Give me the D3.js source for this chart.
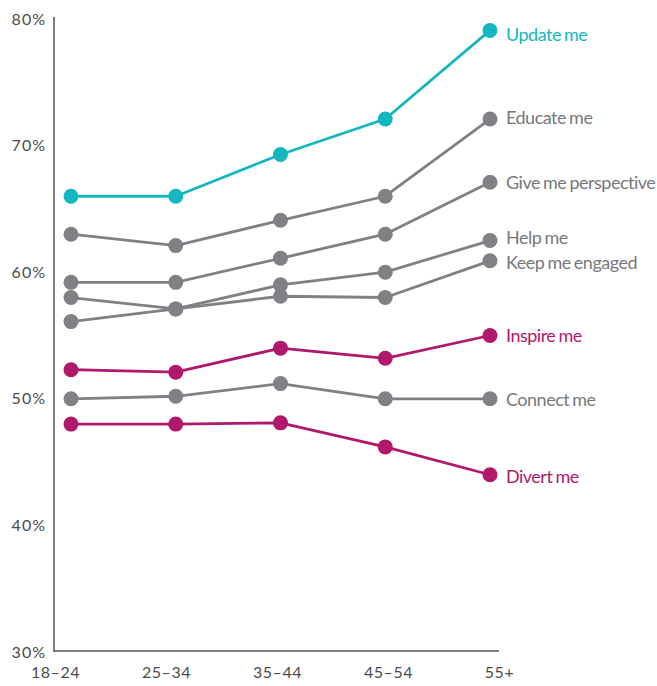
<!DOCTYPE html>
<html>
<head>
<meta charset="utf-8">
<script src="https://cdn.jsdelivr.net/npm/d3@7"></script>
<style>
  html, body { margin: 0; padding: 0; background: #ffffff; }
  svg { display: block; }
</style>
</head>
<body>
<svg id="chart" width="657" height="686"></svg>
<script>
// ---- Data ----
const categories = ["18–24", "25–34", "35–44", "45–54", "55+"];
const yTicks = [30, 40, 50, 60, 70, 80];

const seriesNames = [
  "Update me", "Educate me", "Give me perspective", "Help me",
  "Keep me engaged", "Inspire me", "Connect me", "Divert me"
];
const updateMe          = [66.0, 66.0, 69.3, 72.1, 79.1];
const educateMe         = [63.0, 62.1, 64.1, 66.0, 72.1];
const giveMePerspective = [59.2, 59.2, 61.1, 63.0, 67.1];
const helpMe            = [56.1, 57.1, 59.0, 60.0, 62.5];
const keepMeEngaged     = [58.0, 57.1, 58.1, 58.0, 60.9];
const inspireMe         = [52.3, 52.1, 54.0, 53.2, 55.0];
const connectMe         = [50.0, 50.2, 51.2, 50.0, 50.0];
const divertMe          = [48.0, 48.0, 48.1, 46.2, 44.0];

const seriesValues = [updateMe, educateMe, giveMePerspective, helpMe,
                      keepMeEngaged, inspireMe, connectMe, divertMe];

// ---- Styling / layout (kept out of data) ----
const colorOf = {
  "Update me": "#14b6c0",
  "Inspire me": "#b0186b",
  "Divert me": "#b0186b"
};
const grey = "#808185";
const labelNudge = {
  "Update me": 4, "Educate me": -1, "Give me perspective": 0, "Help me": -3,
  "Keep me engaged": 2, "Inspire me": 0, "Connect me": 1, "Divert me": 2
};

const svg = d3.select("#chart");

const x = d3.scalePoint().domain(categories).range([71, 490]);
const xLab = d3.scalePoint().domain(categories).range([55, 499]);
const y = d3.scaleLinear().domain([30, 80]).range([652, 19]);

// axes lines
svg.append("line")
  .attr("x1", 54).attr("x2", 54).attr("y1", 17).attr("y2", 651.5)
  .attr("stroke", "#555658").attr("stroke-width", 1.5);
svg.append("line")
  .attr("x1", 53.25).attr("x2", 499).attr("y1", 651).attr("y2", 651)
  .attr("stroke", "#555658").attr("stroke-width", 1.5);

// y tick labels
const yAxis = svg.append("g")
  .attr("transform", "translate(46,0)")
  .call(d3.axisLeft(y).tickValues(yTicks).tickSize(0).tickPadding(0)
        .tickFormat(d => d + "%"));
yAxis.select(".domain").remove();
yAxis.selectAll("text")
  .attr("font-family", "Lato, 'Open Sans', sans-serif")
  .attr("font-size", 16)
  .attr("letter-spacing", "1px")
  .attr("fill", "#4b4b4d");

// x tick labels
const xAxis = svg.append("g")
  .attr("transform", "translate(0,667)")
  .call(d3.axisBottom(xLab).tickSize(0).tickPadding(0));
xAxis.select(".domain").remove();
xAxis.selectAll("text")
  .attr("font-family", "Lato, 'Open Sans', sans-serif")
  .attr("font-size", 16)
  .attr("letter-spacing", "0.5px")
  .attr("fill", "#4b4b4d");

// Series
const data = seriesNames.map((name, i) => ({
  name,
  values: seriesValues[i].map((v, j) => ({ cat: categories[j], v })),
  color: colorOf[name] || grey
}));

const line = d3.line().x(d => x(d.cat)).y(d => y(d.v));

// draw grey first, coloured on top
const order = data.filter(d => d.color === grey).concat(data.filter(d => d.color !== grey));

const g = svg.append("g");
order.forEach(s => {
  const sg = g.append("g");
  sg.append("path")
    .attr("d", line(s.values))
    .attr("fill", "none")
    .attr("stroke", s.color)
    .attr("stroke-width", 2.8)
    .attr("stroke-linejoin", "round");
  sg.selectAll("circle").data(s.values).join("circle")
    .attr("cx", d => x(d.cat))
    .attr("cy", d => y(d.v))
    .attr("r", 7.5)
    .attr("fill", s.color);
  const last = s.values[s.values.length - 1];
  sg.append("text")
    .attr("x", x(last.cat) + 16)
    .attr("y", y(last.v) + labelNudge[s.name])
    .attr("dy", "0.35em")
    .attr("font-family", "Lato, 'Open Sans', sans-serif")
    .attr("font-size", 18)
    .attr("letter-spacing", "-0.5px")
    .attr("word-spacing", "-1px")
    .attr("fill", s.color === grey ? "#77787b" : s.color)
    .text(s.name);
});
</script>
</body>
</html>
